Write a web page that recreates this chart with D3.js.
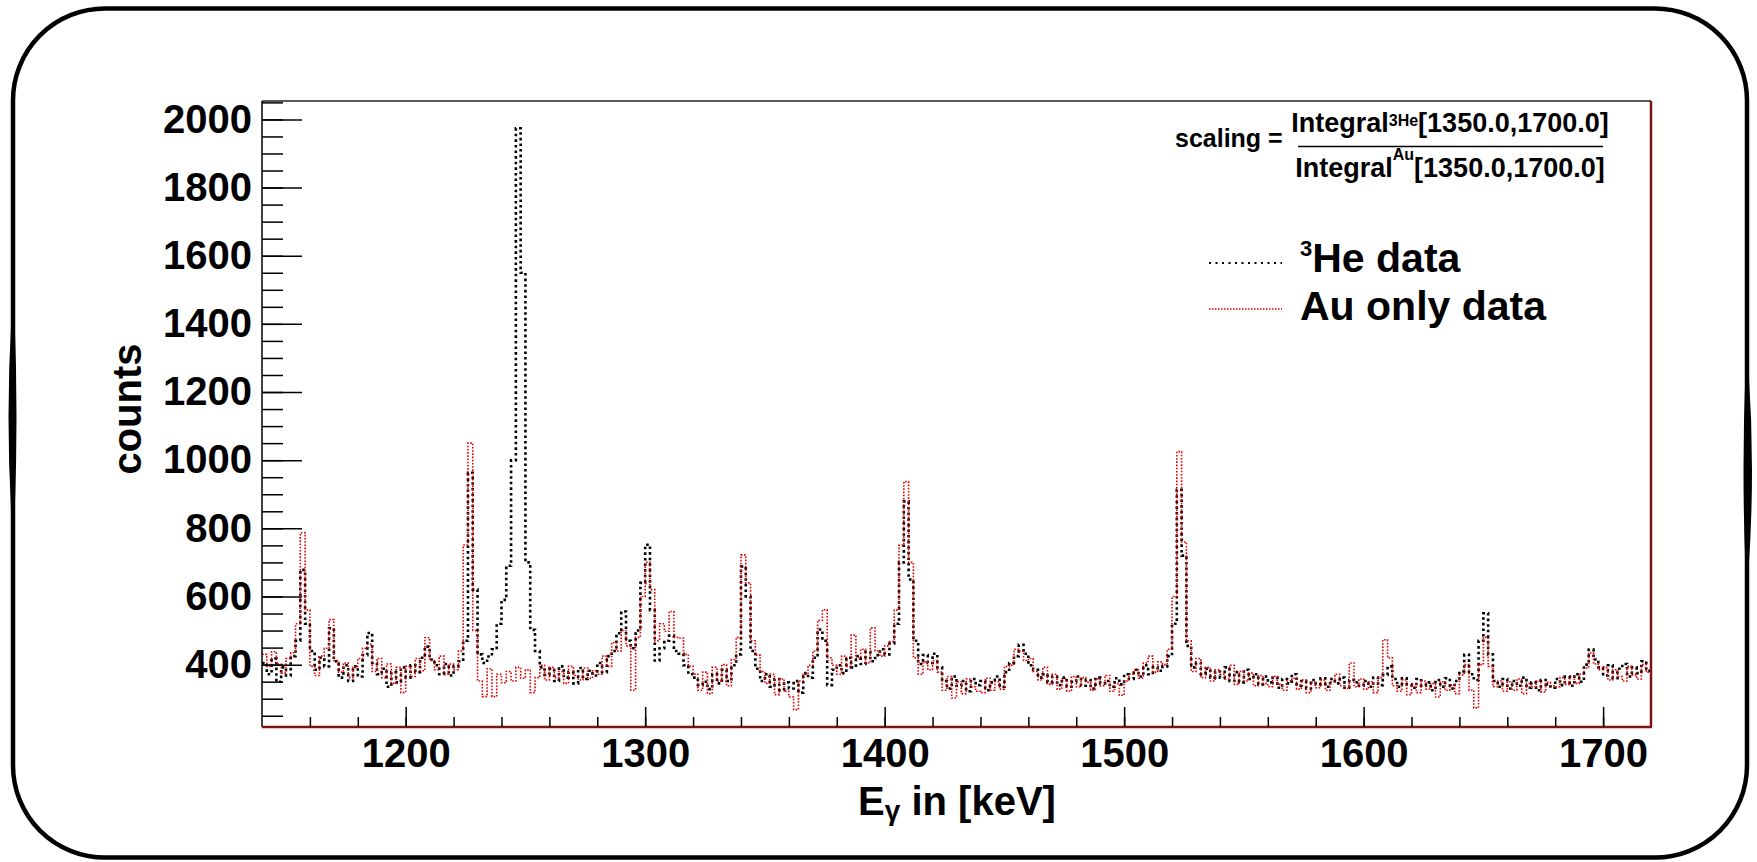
<!DOCTYPE html>
<html>
<head>
<meta charset="utf-8">
<script src="https://cdn.jsdelivr.net/npm/d3@7"></script>
<style>
  html, body { margin: 0; padding: 0; background: #fff; }
  svg { display: block; font-family: "Liberation Sans", Arial, sans-serif; font-weight: bold; }
</style>
</head>
<body>
<svg id="chart" width="1757" height="862"></svg>
<script>
// histogram binning (keV)
const binStart = 1140;
const binWidth = 2;

// 3He data, counts per 2 keV bin from 1140 to 1720
const he3Counts = [
  405, 372, 418, 350, 392, 368, 425, 470, 678, 520,   // 1140
  440, 385, 420, 395, 507, 410, 362, 398, 352, 395,   // 1160
  365, 428, 493, 405, 372, 388, 335, 378, 348, 392,   // 1180
  362, 398, 378, 420, 453, 415, 398, 372, 402, 368,   // 1200
  395, 410, 470, 963, 620, 430, 405, 424, 445, 520,   // 1220
  590, 690, 1000, 1974, 1550, 700, 502, 440, 392, 370, // 1240
  388, 352, 395, 362, 378, 345, 390, 358, 382, 368,   // 1260
  405, 378, 425, 440, 492, 556, 470, 448, 500, 640,   // 1280
  752, 560, 412, 448, 470, 485, 440, 432, 398, 372,   // 1300
  362, 340, 350, 328, 372, 345, 385, 352, 398, 430,   // 1320
  688, 600, 440, 388, 352, 372, 335, 358, 325, 348,   // 1340
  330, 352, 318, 375, 362, 420, 503, 470, 340, 385,   // 1360
  398, 375, 420, 392, 425, 402, 438, 410, 428, 445,   // 1380
  430, 462, 520, 700, 879, 650, 470, 402, 428, 405,   // 1400
  432, 392, 352, 330, 365, 338, 352, 322, 358, 340,   // 1420
  352, 325, 348, 365, 335, 378, 405, 425, 458, 432,   // 1440
  398, 385, 362, 372, 348, 365, 340, 362, 335, 350,   // 1460
  365, 338, 355, 330, 362, 345, 352, 335, 360, 342,   // 1480
  372, 358, 385, 365, 398, 372, 392, 382, 395, 425,   // 1500
  520, 913, 720, 455, 392, 405, 372, 388, 362, 380,   // 1520
  362, 392, 352, 378, 348, 385, 358, 372, 342, 365,   // 1540
  348, 362, 332, 358, 345, 372, 338, 352, 330, 355,   // 1560
  342, 360, 335, 358, 345, 362, 332, 355, 348, 338,   // 1580
  352, 335, 362, 340, 370, 395, 358, 335, 360, 342,   // 1600
  332, 358, 338, 348, 325, 355, 335, 360, 330, 352,   // 1620
  380, 429, 372, 355, 470, 551, 430, 352, 335, 358,   // 1640
  330, 352, 338, 362, 332, 348, 325, 355, 342, 332,   // 1660
  358, 340, 365, 338, 372, 350, 400, 444, 415, 392,   // 1680
  368, 398, 360, 388, 402, 365, 392, 375, 410, 382    // 1700
];

// Au only data, counts per 2 keV bin from 1140 to 1720
const auCounts = [
  430, 395, 438, 402, 375, 418, 435, 520, 787, 560,   // 1140
  395, 368, 425, 448, 532, 412, 378, 405, 362, 392,   // 1160
  418, 448, 460, 380, 418, 362, 402, 345, 392, 318,   // 1180
  395, 365, 418, 382, 479, 412, 385, 425, 372, 402,   // 1200
  385, 440, 751, 1050, 500, 352, 306, 388, 306, 372,  // 1220
  347, 380, 352, 392, 360, 385, 318, 362, 398, 355,   // 1240
  392, 362, 380, 345, 395, 368, 355, 390, 360, 382,   // 1260
  372, 425, 395, 465, 440, 500, 455, 325, 480, 600,   // 1280
  700, 620, 470, 520, 498, 556, 480, 478, 430, 395,   // 1300
  372, 325, 378, 315, 392, 352, 400, 338, 415, 480,   // 1320
  722, 640, 470, 428, 380, 345, 372, 312, 358, 322,   // 1340
  305, 268, 352, 372, 398, 440, 530, 561, 420, 398,   // 1360
  372, 425, 395, 487, 418, 445, 405, 508, 440, 425,   // 1380
  455, 468, 560, 750, 937, 700, 420, 372, 408, 385,   // 1400
  412, 378, 325, 365, 302, 350, 315, 358, 335, 322,   // 1420
  318, 360, 325, 350, 328, 395, 398, 445, 440, 412,   // 1440
  418, 380, 355, 392, 342, 372, 328, 358, 322, 365,   // 1460
  335, 362, 348, 325, 358, 338, 368, 322, 345, 310,   // 1480
  352, 372, 385, 360, 405, 425, 378, 408, 400, 445,   // 1500
  600, 1025, 760, 470, 380, 418, 362, 392, 352, 385,  // 1520
  372, 358, 398, 342, 380, 352, 375, 338, 368, 345,   // 1540
  335, 365, 342, 325, 352, 360, 328, 355, 318, 348,   // 1560
  332, 355, 325, 350, 372, 338, 330, 405, 335, 358,   // 1580
  328, 350, 318, 362, 473, 420, 338, 322, 355, 312,   // 1600
  342, 318, 352, 328, 345, 305, 350, 325, 340, 315,   // 1620
  370, 400, 325, 273, 400, 480, 395, 335, 352, 322,   // 1640
  350, 325, 358, 315, 345, 335, 352, 320, 348, 338,   // 1660
  335, 362, 342, 365, 345, 372, 390, 435, 402, 385,   // 1680
  392, 355, 385, 365, 352, 395, 370, 358, 400, 378    // 1700
];

const xMajorTicks = [1200, 1300, 1400, 1500, 1600, 1700];
const yMajorTicks = [400, 600, 800, 1000, 1200, 1400, 1600, 1800, 2000];
const xDomain = [1140, 1720];
const yDomain = [217, 2054];

const plot = { left: 262, right: 1651, top: 101, bottom: 727 };
const svg = d3.select("#chart");

// rounded outer border of the slide
svg.append("rect")
  .attr("x", 13).attr("y", 8.5)
  .attr("width", 1734).attr("height", 849)
  .attr("rx", 92).attr("ry", 92)
  .attr("fill", "none")
  .attr("stroke", "#000")
  .attr("stroke-width", 4.5);

// thicker bits of the border on both sides
svg.append("path")
  .attr("d", "M13,317 Q7,417 13,518 Q17,417 13,317 Z")
  .attr("fill", "#000").attr("stroke", "#000").attr("stroke-width", 3);
svg.append("path")
  .attr("d", "M1747,370 Q1754,470 1747,570 Q1743,470 1747,370 Z")
  .attr("fill", "#000").attr("stroke", "#000").attr("stroke-width", 3);

const x = d3.scaleLinear().domain(xDomain).range([plot.left, plot.right]);
const y = d3.scaleLinear().domain(yDomain).range([plot.bottom, plot.top]);

svg.append("clipPath").attr("id", "clip")
  .append("rect")
  .attr("x", plot.left).attr("y", plot.top)
  .attr("width", plot.right - plot.left).attr("height", plot.bottom - plot.top);

// histogram as step line, one point per bin low edge plus closing edge
function histPoints(counts) {
  const pts = counts.map((c, i) => [binStart + i * binWidth, c]);
  pts.push([binStart + counts.length * binWidth, counts[counts.length - 1]]);
  return pts;
}

const line = d3.line()
  .x((d) => x(d[0]))
  .y((d) => y(d[1]))
  .curve(d3.curveStepAfter);

const hists = svg.append("g").attr("clip-path", "url(#clip)");

hists.append("path")
  .attr("d", line(histPoints(he3Counts)))
  .attr("fill", "none")
  .attr("stroke", "#000")
  .attr("stroke-width", 2.6)
  .attr("stroke-dasharray", "2.6 3");

hists.append("path")
  .attr("d", line(histPoints(auCounts)))
  .attr("fill", "none")
  .attr("stroke", "#e00000")
  .attr("stroke-width", 1.6)
  .attr("stroke-dasharray", "1.6 1.6");

// frame: top/left black, bottom/right dark red
svg.append("line")
  .attr("x1", plot.left).attr("x2", plot.right)
  .attr("y1", plot.top).attr("y2", plot.top)
  .attr("stroke", "#222").attr("stroke-width", 1.5);
svg.append("line")
  .attr("x1", plot.left).attr("x2", plot.left)
  .attr("y1", plot.top).attr("y2", plot.bottom)
  .attr("stroke", "#000").attr("stroke-width", 1.5);
svg.append("line")
  .attr("x1", plot.left).attr("x2", plot.right + 1)
  .attr("y1", plot.bottom).attr("y2", plot.bottom)
  .attr("stroke", "#7d1414").attr("stroke-width", 2.5);
svg.append("line")
  .attr("x1", plot.right).attr("x2", plot.right)
  .attr("y1", plot.top).attr("y2", plot.bottom)
  .attr("stroke", "#7d1414").attr("stroke-width", 2.5);

// axes
function styleAxis(g) {
  g.select(".domain").remove();
  g.attr("font-family", null).attr("font-size", null);
  g.selectAll(".tick line").attr("stroke", "#000").attr("stroke-width", 1.5);
  g.selectAll(".tick text").attr("fill", "#000").style("font-size", "40px");
}

svg.append("g")
  .attr("transform", `translate(${plot.left},0)`)
  .call(d3.axisLeft(y).tickValues(d3.range(250, 2051, 50)).tickSize(-21).tickFormat(""))
  .call(styleAxis);

svg.append("g")
  .attr("transform", `translate(${plot.left},0)`)
  .call(d3.axisLeft(y).tickValues(yMajorTicks).tickSizeInner(-40).tickSizeOuter(0)
    .tickPadding(10).tickFormat(d3.format("d")))
  .call(styleAxis);

svg.append("g")
  .attr("transform", `translate(0,${plot.bottom})`)
  .call(d3.axisBottom(x).tickValues(d3.range(1160, 1720, 20)).tickSize(-10).tickFormat(""))
  .call(styleAxis);

svg.append("g")
  .attr("transform", `translate(0,${plot.bottom})`)
  .call(d3.axisBottom(x).tickValues(xMajorTicks).tickSizeInner(-20).tickSizeOuter(0)
    .tickPadding(12).tickFormat(d3.format("d")))
  .call(styleAxis);

// axis titles
svg.append("text")
  .attr("transform", "translate(141,409) rotate(-90)")
  .attr("text-anchor", "middle")
  .style("font-size", "40px")
  .text("counts");

const xt = svg.append("text")
  .attr("x", 957).attr("y", 815)
  .attr("text-anchor", "middle")
  .style("font-size", "40px");
xt.append("tspan").text("E");
xt.append("tspan").attr("dy", 5).style("font-size", "28px").text("γ");
xt.append("tspan").attr("dy", -5).text(" in [keV]");

// scaling formula
svg.append("text")
  .attr("x", 1175).attr("y", 147)
  .style("font-size", "25px")
  .text("scaling =");

const num = svg.append("text")
  .attr("x", 1450).attr("y", 132)
  .attr("text-anchor", "middle")
  .style("font-size", "27px");
num.append("tspan").text("Integral");
num.append("tspan").attr("dy", -6).style("font-size", "16px").text("3He");
num.append("tspan").attr("dy", 6).text("[1350.0,1700.0]");

svg.append("line")
  .attr("x1", 1298).attr("x2", 1603)
  .attr("y1", 146.5).attr("y2", 146.5)
  .attr("stroke", "#000").attr("stroke-width", 1.5);

const den = svg.append("text")
  .attr("x", 1450).attr("y", 177)
  .attr("text-anchor", "middle")
  .style("font-size", "27px");
den.append("tspan").text("Integral");
den.append("tspan").attr("dy", -17).style("font-size", "16px").text("Au");
den.append("tspan").attr("dy", 17).text("[1350.0,1700.0]");

// legend
const legend = svg.append("g");
legend.append("line")
  .attr("x1", 1209).attr("x2", 1282).attr("y1", 263).attr("y2", 263)
  .attr("stroke", "#000").attr("stroke-width", 2).attr("stroke-dasharray", "2 4.5");
legend.append("line")
  .attr("x1", 1209).attr("x2", 1282).attr("y1", 309).attr("y2", 309)
  .attr("stroke", "#e00000").attr("stroke-width", 1.5).attr("stroke-dasharray", "1.5 1.5");

const he3Label = legend.append("text").attr("x", 1300).attr("y", 272).style("font-size", "41px");
he3Label.append("tspan").attr("dy", -16).style("font-size", "22px").text("3");
he3Label.append("tspan").attr("dy", 16).text("He data");

legend.append("text")
  .attr("x", 1300).attr("y", 320)
  .style("font-size", "41px")
  .text("Au only data");
</script>
</body>
</html>
